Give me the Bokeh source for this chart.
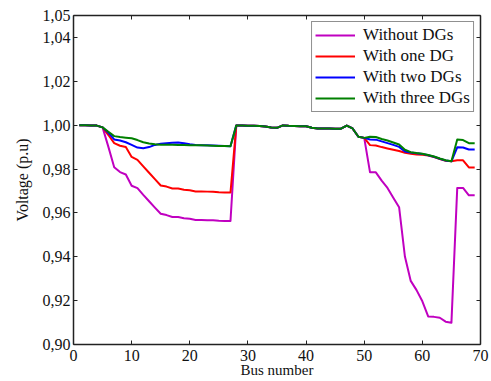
from bokeh.plotting import figure
from bokeh.models import (Range1d, FixedTicker, LinearAxis, CustomJSTickFormatter,
                          Legend, LegendItem, ColumnDataSource)
from bokeh.embed import file_html
from bokeh.resources import INLINE

# ---------------- data ----------------
bus = list(range(1, 70))

without_dgs = [
    1.0000, 1.0000, 0.9999, 0.9998, 0.9990, 0.9901, 0.9808, 0.9786, 0.9775, 0.9724,
    0.9713, 0.9682, 0.9653, 0.9624, 0.9596, 0.9590, 0.9581, 0.9581, 0.9576, 0.9573,
    0.9568, 0.9568, 0.9567, 0.9566, 0.9564, 0.9563, 0.9563, 0.9999, 0.9999, 0.9997,
    0.9997, 0.9996, 0.9994, 0.9989, 0.9988, 0.9999, 0.9997, 0.9996, 0.9995, 0.9995,
    0.9988, 0.9985, 0.9985, 0.9985, 0.9984, 0.9984, 0.9998, 0.9985, 0.9947, 0.9942,
    0.9785, 0.9785, 0.9747, 0.9714, 0.9669, 0.9626, 0.9401, 0.9290, 0.9248, 0.9197,
    0.9128, 0.9126, 0.9122, 0.9104, 0.9099, 0.9714, 0.9714, 0.9680, 0.9680]

with_one_dg = [
    1.0000, 1.0000, 0.9999, 0.9998, 0.9990, 0.9955, 0.9918, 0.9906, 0.9900, 0.9855,
    0.9842, 0.9812, 0.9783, 0.9754, 0.9725, 0.9720, 0.9711, 0.9711, 0.9706, 0.9703,
    0.9698, 0.9698, 0.9697, 0.9696, 0.9694, 0.9693, 0.9693, 0.9999, 0.9999, 0.9997,
    0.9997, 0.9996, 0.9994, 0.9989, 0.9988, 0.9999, 0.9997, 0.9996, 0.9995, 0.9995,
    0.9988, 0.9985, 0.9985, 0.9985, 0.9984, 0.9984, 0.9998, 0.9985, 0.9947, 0.9942,
    0.9909, 0.9907, 0.9900, 0.9894, 0.9888, 0.9882, 0.9874, 0.9870, 0.9866, 0.9865,
    0.9862, 0.9855, 0.9846, 0.9838, 0.9836, 0.9840, 0.9840, 0.9807, 0.9807]

with_two_dgs = [
    1.0000, 1.0000, 0.9999, 0.9998, 0.9990, 0.9965, 0.9935, 0.9930, 0.9922, 0.9910,
    0.9898, 0.9895, 0.9900, 0.9910, 0.9915, 0.9918, 0.9920, 0.9921, 0.9918, 0.9913,
    0.9910, 0.9909, 0.9908, 0.9907, 0.9906, 0.9905, 0.9904, 0.9999, 0.9999, 0.9997,
    0.9997, 0.9996, 0.9994, 0.9989, 0.9988, 0.9999, 0.9997, 0.9996, 0.9995, 0.9995,
    0.9988, 0.9985, 0.9985, 0.9985, 0.9984, 0.9984, 0.9998, 0.9985, 0.9947, 0.9942,
    0.9935, 0.9934, 0.9926, 0.9918, 0.9910, 0.9901, 0.9880, 0.9875, 0.9872, 0.9869,
    0.9863, 0.9856, 0.9847, 0.9839, 0.9835, 0.9899, 0.9898, 0.9889, 0.9889]

with_three_dgs = [
    1.0000, 1.0000, 0.9999, 0.9998, 0.9990, 0.9970, 0.9950, 0.9946, 0.9943, 0.9940,
    0.9932, 0.9922, 0.9916, 0.9913, 0.9911, 0.9911, 0.9911, 0.9910, 0.9910, 0.9909,
    0.9909, 0.9908, 0.9907, 0.9906, 0.9905, 0.9905, 0.9904, 0.9999, 0.9999, 0.9997,
    0.9997, 0.9996, 0.9994, 0.9989, 0.9988, 0.9999, 0.9997, 0.9996, 0.9995, 0.9995,
    0.9988, 0.9985, 0.9985, 0.9985, 0.9984, 0.9984, 0.9998, 0.9985, 0.9947, 0.9942,
    0.9947, 0.9946, 0.9937, 0.9930, 0.9921, 0.9912, 0.9888, 0.9877, 0.9873, 0.9870,
    0.9864, 0.9857, 0.9848, 0.9840, 0.9836, 0.9935, 0.9932, 0.9918, 0.9917]

series_names = ["Without DGs", "With one DG", "With two DGs", "With three DGs"]
series_colors = ["#c000c0", "#ff0000", "#0000ff", "#008000"]

x_ticks = [0, 10, 20, 30, 40, 50, 60, 70]
y_ticks = [0.90, 0.92, 0.94, 0.96, 0.98, 1.00, 1.02, 1.04, 1.05]

FONT = "'Liberation Serif', 'Times New Roman', serif"

# ---------------- figure ----------------
p = figure(width=491, height=381, output_backend="svg", toolbar_location=None,
           x_range=Range1d(0, 70), y_range=Range1d(0.90, 1.05),
           min_border_left=73, min_border_right=11, min_border_top=15,
           min_border_bottom=37)
p.grid.visible = False
p.outline_line_color = None
p.background_fill_color = "white"
p.border_fill_color = "white"

src = ColumnDataSource(dict(bus=bus, s0=without_dgs, s1=with_one_dg,
                            s2=with_two_dgs, s3=with_three_dgs))
renderers = []
for i, col in enumerate(["s0", "s1", "s2", "s3"]):
    r = p.line("bus", col, source=src, line_color=series_colors[i], line_width=2,
               line_join="round")
    renderers.append(r)

def style_axis(ax, labels=True):
    ax.axis_line_color = "#222222"
    ax.axis_line_width = 1.5
    ax.major_tick_line_color = "#222222"
    ax.major_tick_line_width = 1
    ax.major_tick_in = 4
    ax.major_tick_out = 0
    ax.minor_tick_in = 0
    ax.minor_tick_out = 0
    ax.major_label_text_font = FONT
    ax.major_label_text_font_size = "16px"
    ax.major_label_text_color = "#111111"
    if not labels:
        ax.formatter = CustomJSTickFormatter(code="return ''")
        ax.major_label_standoff = 0

xa = p.xaxis[0]
xa.ticker = FixedTicker(ticks=x_ticks)
style_axis(xa)
xa.major_label_standoff = 5
xa.axis_label = "Bus number"
xa.axis_label_text_font = FONT
xa.axis_label_text_font_size = "15px"
xa.axis_label_text_font_style = "normal"
xa.axis_label_text_color = "#111111"
xa.axis_label_standoff = -2

ya = p.yaxis[0]
ya.ticker = FixedTicker(ticks=y_ticks)
ya.formatter = CustomJSTickFormatter(code="return tick.toFixed(2).replace('.', ',')")
style_axis(ya)
ya.major_label_standoff = 3
ya.axis_label = "Voltage (p.u)"
ya.axis_label_text_font = FONT
ya.axis_label_text_font_size = "16px"
ya.axis_label_text_font_style = "normal"
ya.axis_label_text_color = "#111111"
ya.axis_label_standoff = 9

top = LinearAxis(ticker=FixedTicker(ticks=x_ticks))
style_axis(top, labels=False)
p.add_layout(top, "above")
right = LinearAxis(ticker=FixedTicker(ticks=y_ticks))
style_axis(right, labels=False)
p.add_layout(right, "right")

legend = Legend(items=[LegendItem(label=series_names[i], renderers=[renderers[i]])
                       for i in range(4)],
                location="top_right", margin=6, padding=3, spacing=1,
                label_height=20, glyph_height=20, glyph_width=40, label_standoff=8,
                label_text_font=FONT, label_text_font_size="17px",
                label_text_color="#111111",
                border_line_color="#222222", border_line_width=1,
                background_fill_color="white", background_fill_alpha=1.0)
p.add_layout(legend)

open("out.html", "w").write(file_html(p, INLINE))
